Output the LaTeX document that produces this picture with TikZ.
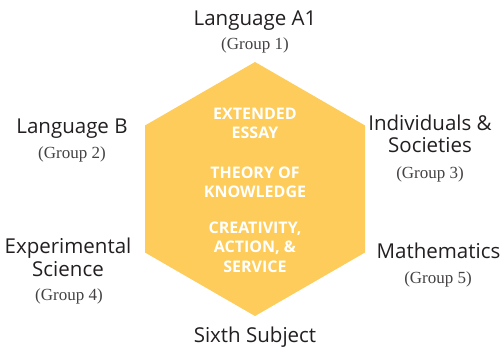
\documentclass[tikz,border=0pt]{standalone}
\usepackage{fontspec}
\setmainfont{Liberation Serif}
\setsansfont{Open Sans}
\definecolor{hexfill}{RGB}{253,204,90}
\definecolor{ink}{RGB}{35,31,32}
\begin{document}
\begin{tikzpicture}[x=1pt,y=-1pt,
  subj/.style={font=\sffamily\fontsize{20.5}{23}\selectfont, text=ink, inner sep=0pt, anchor=base},
  grp/.style={font=\rmfamily\fontsize{17}{20}\selectfont, text=ink!85, inner sep=0pt, anchor=base},
  core/.style={font=\sffamily\bfseries\fontsize{16}{19}\selectfont, text=white, inner sep=0pt, anchor=base}]
\useasboundingbox (0,0) rectangle (502,349);
\fill[hexfill] (255,62) -- (365,125.5) -- (365,252.5) -- (255,316) -- (145,252.5) -- (145,125.5) -- cycle;
% core components
\node[core] (ee1) at (255,119) {EXTENDED};
\node[core] (ee2) at (255,138) {ESSAY};
\node[core] (tok1) at (255,178) {THEORY OF};
\node[core] (tok2) at (255,197) {KNOWLEDGE};
\node[core] (cas1) at (255,233) {CREATIVITY,};
\node[core] (cas2) at (255,252) {ACTION, \&};
\node[core] (cas3) at (255,272) {SERVICE};
% subject groups
\node[subj] (g1) at (255,25) {Language A1};
\node[grp] (g1n) at (255,49) {(Group 1)};
\node[subj] (g2) at (72,133) {Language B};
\node[grp] (g2n) at (72,158) {(Group 2)};
\node[subj] (g3a) at (430,130) {Individuals \&};
\node[subj] (g3b) at (430,152.5) {Societies};
\node[grp] (g3n) at (430,178) {(Group 3)};
\node[subj] (g4a) at (68,253) {Experimental};
\node[subj] (g4b) at (68,276.5) {Science};
\node[grp] (g4n) at (69,300) {(Group 4)};
\node[subj] (g5) at (438.5,258) {Mathematics};
\node[grp] (g5n) at (438,283) {(Group 5)};
\node[subj] (g6) at (255,342) {Sixth Subject};
\end{tikzpicture}
\end{document}
